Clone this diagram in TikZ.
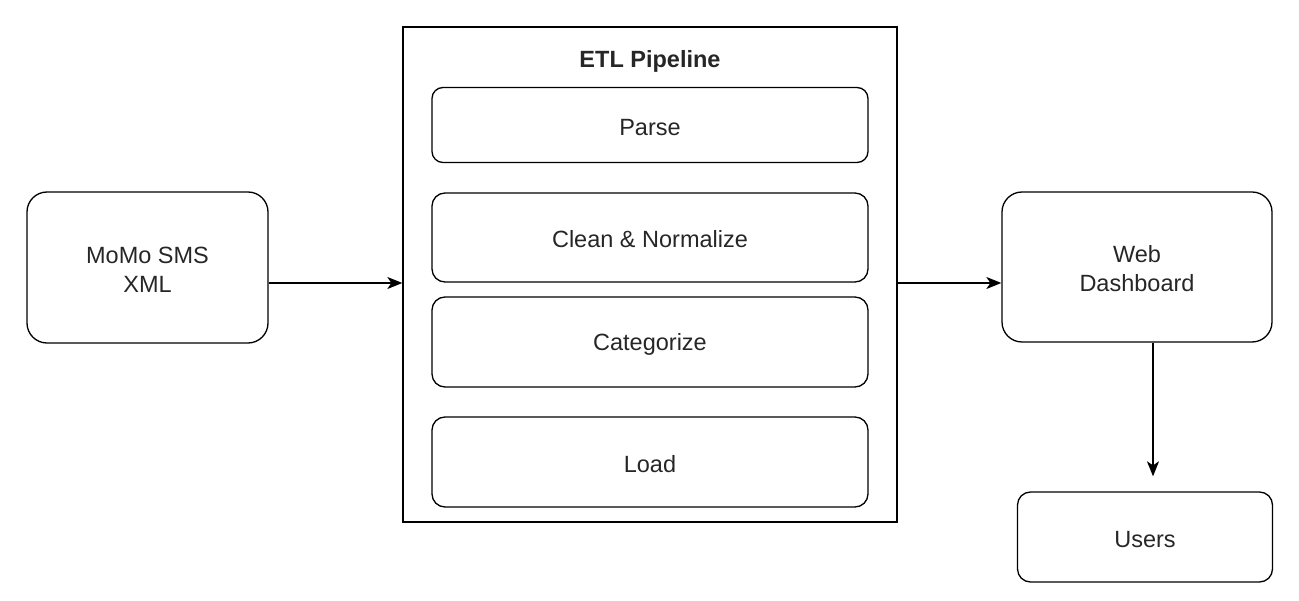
\documentclass[tikz,border=0pt]{standalone}
\usepackage{fontspec}
\setmainfont{Liberation Sans}
\usetikzlibrary{arrows.meta}
\newcommand\Tup{\rule{0pt}{21pt}}
\begin{document}
\begin{tikzpicture}[x=1pt,y=-1pt,
  line width=1.3pt,
  every node/.style={font=\fontsize{23.5}{29}\selectfont, text=black!85, align=center, inner sep=0pt},
  rbox/.style={draw, rounded corners=#1},
  arr/.style={-{Stealth[length=15pt,width=12pt,inset=4pt]}}]
\useasboundingbox (0,0) rectangle (1299,601);
\node[rbox=20pt, minimum width=241pt, minimum height=151pt] (momo) at (147.5,267.5) {\Tup MoMo SMS\\XML};
\node[draw, minimum width=494pt, minimum height=495pt] (etl) at (650,274.5) {};
\node[font=\fontsize{23.5}{29}\selectfont\bfseries] (title) at (650,61) {ETL Pipeline};
\node[rbox=11pt, minimum width=436pt, minimum height=75pt] (parse) at (650,125) {\Tup Parse};
\node[rbox=13pt, minimum width=436pt, minimum height=89pt] (clean) at (650,237.5) {\Tup Clean \& Normalize};
\node[rbox=13pt, minimum width=436pt, minimum height=90pt] (cat) at (650,342) {\Tup Categorize};
\node[rbox=13pt, minimum width=436pt, minimum height=90pt] (load) at (650,462) {\Tup Load};
\node[rbox=20pt, minimum width=270pt, minimum height=150pt] (web) at (1137,267) {\Tup Web\\Dashboard};
\node[rbox=13pt, minimum width=255pt, minimum height=90pt] (users) at (1145,537) {\Tup Users};
\draw[arr] ([yshift=-15.5pt]momo.east) -- ([yshift=-15.5pt]momo.east -| etl.west);
\draw[arr] ([yshift=-16pt]web.west -| etl.east) -- ([yshift=-16pt]web.west);
\draw[arr, shorten >=15pt] ([xshift=16pt]web.south) -- ([xshift=16pt]web.south |- users.north);
\end{tikzpicture}
\end{document}
